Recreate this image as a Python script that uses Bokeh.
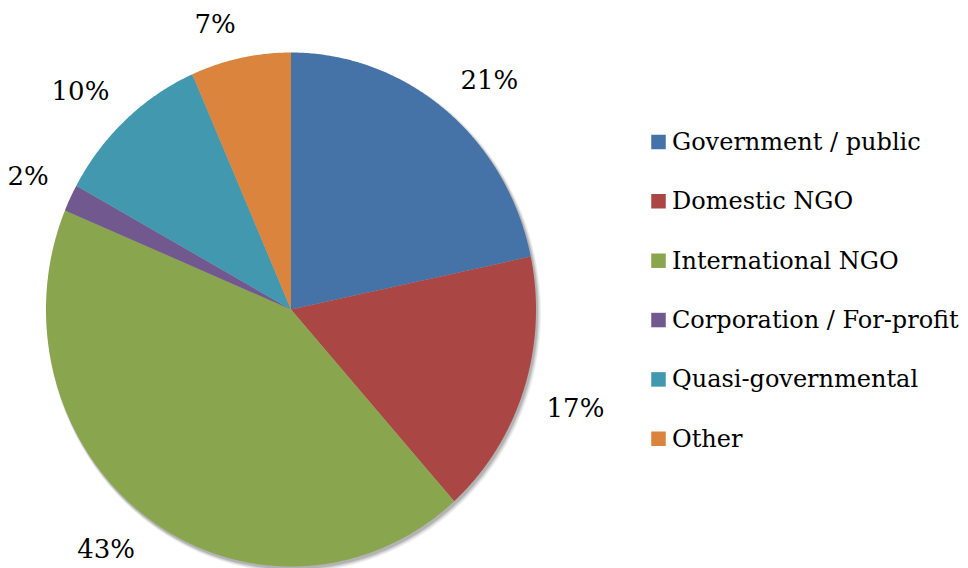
import numpy as np
from bokeh.plotting import figure
from bokeh.models import ColumnDataSource, Range1d
from bokeh.core.properties import value
from bokeh.embed import file_html
from bokeh.resources import INLINE

categories = ["Government  / public", "Domestic NGO", "International NGO",
              "Corporation / For-profit", "Quasi-governmental", "Other"]
shares = [21.7, 16.7, 42.9, 1.7, 10.4, 6.6]
pct_labels = ["21%", "17%", "43%", "2%", "10%", "7%"]
colors = ["#4572A7", "#AA4643", "#89A54E", "#71588F", "#4198AF", "#DB843D"]

W, H = 968, 568
FONT = "DejaVu Serif"


def py(y):
    return H - y


cx, cy = 290.5, py(309)
rx, ry = 245.0, 257.0

vals = np.array(shares, dtype=float)
frac = vals / vals.sum()
ends = np.pi / 2 - 2 * np.pi * np.cumsum(frac)
starts = np.concatenate([[np.pi / 2], ends[:-1]])
mids = (starts + ends) / 2

xs, ys = [], []
for a0, a1 in zip(starts, ends):
    t = np.linspace(a0, a1, max(4, int(abs(a1 - a0) * 120)))
    xs.append(np.concatenate([[cx], cx + rx * np.cos(t), [cx]]))
    ys.append(np.concatenate([[cy], cy + ry * np.sin(t), [cy]]))

src = ColumnDataSource(dict(xs=xs, ys=ys, color=colors, cat=categories))

p = figure(width=W, height=H, output_backend="svg", toolbar_location=None,
           x_range=Range1d(0, W), y_range=Range1d(0, H), min_border=0)
p.axis.visible = False
p.grid.visible = False
p.outline_line_color = None

# soft drop shadow (lower right)
for d, a in [(5, 0.04), (4, 0.05), (3, 0.06), (2, 0.08), (1, 0.1)]:
    p.ellipse(x=[cx + 1.2 + d * 0.3], y=[cy - 2.0 - d * 0.3],
              width=2 * rx + d, height=2 * ry + d,
              fill_color="black", fill_alpha=a, line_color=None)

p.patches(xs="xs", ys="ys", fill_color="color", line_color=None, source=src)

# percentage labels: nearest corner of the label box sits just outside the slice edge
font_px = 26
gap = 24
lx, ly = [], []
for m, lab in zip(mids, pct_labels):
    c, s = np.cos(m), np.sin(m)
    ex, ey = cx + rx * c, cy + ry * s
    hw = 0.5 * font_px * (0.636 * (len(lab) - 1) + 0.95)
    hh = 11
    lx.append(ex + gap * c + np.sign(c) * hw)
    ly.append(ey + gap * s + np.sign(s) * hh)

lsrc = ColumnDataSource(dict(x=lx, y=ly, t=pct_labels))
p.text(x="x", y="y", text="t", source=lsrc, text_font=value(FONT),
       text_font_size=f"{font_px}px", text_align="center", text_baseline="middle",
       text_color="black")

# legend
n = len(categories)
legy = np.array([py(141.5 + 59.35 * i) for i in range(n)])
leg = ColumnDataSource(dict(x=[658.0] * n, tx=[671.5] * n, y=legy,
                            color=colors, cat=categories))
p.rect(x="x", y="y", width=14.5, height=14.5, fill_color="color", line_color=None, source=leg)
p.text(x="tx", y="y", text="cat", source=leg, text_font=value(FONT),
       text_font_size="24px", text_align="left", text_baseline="middle",
       text_color="black")

open("out.html", "w").write(file_html(p, INLINE))
